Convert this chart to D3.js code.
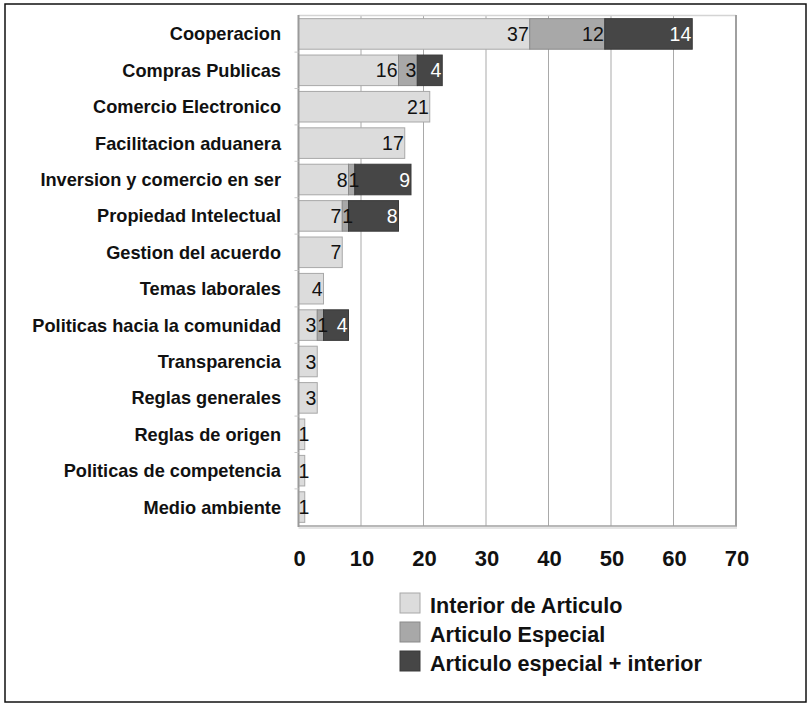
<!DOCTYPE html>
<html>
<head>
<meta charset="utf-8">
<script src="https://cdn.jsdelivr.net/npm/d3@7"></script>
<style>
  html, body { margin: 0; padding: 0; background: #fff; }
  svg { display: block; font-family: "Liberation Sans", Arial, sans-serif; }
</style>
</head>
<body>
<svg id="chart" width="810" height="705"></svg>
<script>
const categories = [
  "Cooperacion", "Compras Publicas", "Comercio Electronico", "Facilitacion aduanera",
  "Inversion y comercio en ser", "Propiedad Intelectual", "Gestion del acuerdo",
  "Temas laborales", "Politicas hacia la comunidad", "Transparencia",
  "Reglas generales", "Reglas de origen", "Politicas de competencia", "Medio ambiente"
];
const interiorDeArticulo = [37, 16, 21, 17, 8, 7, 7, 4, 3, 3, 3, 1, 1, 1];
const articuloEspecial = [12, 3, 0, 0, 1, 1, 0, 0, 1, 0, 0, 0, 0, 0];
const articuloEspecialInterior = [14, 4, 0, 0, 9, 8, 0, 0, 4, 0, 0, 0, 0, 0];
const seriesNames = ["Interior de Articulo", "Articulo Especial", "Articulo especial + interior"];
const tickValues = [0, 10, 20, 30, 40, 50, 60, 70];

const fills = ["#dcdcdc", "#a8a8a8", "#464646"];
const strokes = ["#a8a8a8", "#8a8a8a", "#3a3a3a"];
const labelColors = ["#111", "#111", "#fff"];

const svg = d3.select("#chart");

// outer frame
svg.append("rect").attr("x", 5).attr("y", 4).attr("width", 801).attr("height", 698)
  .attr("fill", "none").attr("stroke", "#111").attr("stroke-width", 1.5);

const x = d3.scaleLinear().domain([0, 70]).range([298.5, 736]);
const y = d3.scaleBand().domain(categories).range([15, 526]).paddingInner(0.16).paddingOuter(0.1);

// gridlines
svg.append("g").selectAll("line").data(tickValues.slice(1, -1)).join("line")
  .attr("x1", d => x(d)).attr("x2", d => x(d))
  .attr("y1", 15).attr("y2", 526)
  .attr("stroke", "#a9a9a9").attr("stroke-width", 1);

// plot frame
svg.append("line").attr("x1", x(0)).attr("x2", x(70)).attr("y1", 15.5).attr("y2", 15.5)
  .attr("stroke", "#d4d4d4").attr("stroke-width", 1.5);
svg.append("line").attr("x1", x(0)).attr("x2", x(70) + 1).attr("y1", 526).attr("y2", 526)
  .attr("stroke", "#a0a0a0").attr("stroke-width", 1.5);
svg.append("line").attr("x1", x(0)).attr("x2", x(70) + 1).attr("y1", 528).attr("y2", 528)
  .attr("stroke", "#dddddd").attr("stroke-width", 1.5);
svg.append("line").attr("x1", x(70)).attr("x2", x(70)).attr("y1", 15).attr("y2", 526)
  .attr("stroke", "#a0a0a0").attr("stroke-width", 2);

// stacked data
const rows = categories.map((c, i) => {
  const vals = [interiorDeArticulo[i], articuloEspecial[i], articuloEspecialInterior[i]];
  let acc = 0;
  return vals.map((v, k) => {
    const seg = { cat: c, k, v, x0: acc, x1: acc + v };
    acc += v;
    return seg;
  }).filter(s => s.v > 0);
});
const segs = rows.flat();

svg.append("g").selectAll("rect").data(segs).join("rect")
  .attr("x", d => x(d.x0))
  .attr("y", d => y(d.cat))
  .attr("width", d => x(d.x1) - x(d.x0))
  .attr("height", y.bandwidth())
  .attr("fill", d => fills[d.k])
  .attr("stroke", d => strokes[d.k])
  .attr("stroke-width", 1);

// left axis line on top
svg.append("line").attr("x1", x(0)).attr("x2", x(0)).attr("y1", 15).attr("y2", 527)
  .attr("stroke", "#9a9a9a").attr("stroke-width", 2);

// small category ticks on left axis
svg.append("g").selectAll("line").data(categories.slice(1)).join("line")
  .attr("x1", x(0) - 4).attr("x2", x(0))
  .attr("y1", d => y(d) - y.step() * y.paddingInner() / 2)
  .attr("y2", d => y(d) - y.step() * y.paddingInner() / 2)
  .attr("stroke", "#c8c8c8").attr("stroke-width", 1);

// value labels
const labels = svg.append("g").selectAll("text").data(segs).join("text")
  .attr("y", d => y(d.cat) + y.bandwidth() / 2)
  .attr("dy", "0.36em")
  .attr("font-size", 19.5)
  .attr("fill", d => labelColors[d.k])
  .text(d => d.v);
labels.each(function (d) {
  const w = this.getComputedTextLength();
  const start = Math.max(x(d.x0), x(d.x1) - 1 - w);
  d3.select(this).attr("x", start);
});

// category labels
svg.append("g").selectAll("text").data(categories).join("text")
  .attr("x", 281)
  .attr("y", d => y(d) + y.bandwidth() / 2)
  .attr("dy", "0.36em")
  .attr("text-anchor", "end")
  .attr("font-size", 18.2)
  .attr("font-weight", "bold")
  .attr("fill", "#111")
  .text(d => d);

// x tick labels
svg.append("g").selectAll("text").data(tickValues).join("text")
  .attr("x", d => x(d) + 1)
  .attr("y", 566)
  .attr("text-anchor", "middle")
  .attr("font-size", 22)
  .attr("font-weight", "bold")
  .attr("fill", "#111")
  .text(d => d);

// legend
const legend = svg.append("g").selectAll("g").data(seriesNames).join("g")
  .attr("transform", (d, i) => `translate(400, ${593 + i * 29})`);
legend.append("rect").attr("width", 20).attr("height", 20)
  .attr("fill", (d, i) => fills[i]).attr("stroke", (d, i) => strokes[i]).attr("stroke-width", 1);
legend.append("text").attr("x", 30).attr("y", 20)
  .attr("font-size", 21.6).attr("font-weight", "bold").attr("fill", "#111")
  .text(d => d);
</script>
</body>
</html>
